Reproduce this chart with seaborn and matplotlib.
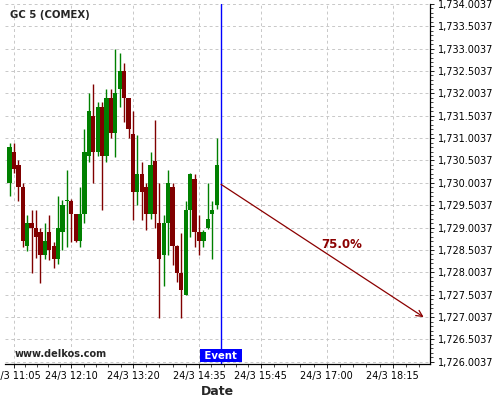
import numpy as np
import pandas as pd
import matplotlib
matplotlib.use("Agg")
import matplotlib.pyplot as plt
import matplotlib.dates as mdates
from matplotlib.ticker import FixedLocator, FuncFormatter
import seaborn as sns

sns.set_theme(style="white")
plt.rcParams['font.family'] = ['DejaVu Sans']

# ---------------- data ----------------
start_time = "2021-03-24 11:00"
n_candles = 48
opens = [1730.00, 1730.69, 1730.40, 1729.91, 1728.60, 1729.11, 1729.00, 1728.91,
         1728.39, 1728.91, 1728.59, 1728.31, 1728.91, 1729.59, 1729.60, 1729.31,
         1728.70, 1729.31, 1730.60, 1731.49, 1730.70, 1731.70, 1730.60, 1731.90,
         1731.12, 1732.10, 1732.50, 1731.90, 1731.09, 1729.80, 1730.20, 1729.92,
         1729.31, 1730.50, 1729.11, 1728.39, 1729.11, 1729.91, 1728.60, 1728.00,
         1727.50, 1729.40, 1730.09, 1728.91, 1728.71, 1729.00, 1729.31, 1729.51]
highs = [1730.89, 1730.89, 1730.51, 1730.00, 1729.29, 1729.40, 1729.40, 1729.00,
         1729.11, 1729.29, 1728.69, 1729.71, 1729.62, 1730.29, 1729.65, 1729.31,
         1729.91, 1731.20, 1732.01, 1732.21, 1731.81, 1731.81, 1732.10, 1732.10,
         1732.99, 1732.90, 1732.68, 1731.90, 1731.60, 1731.08, 1730.47, 1730.00,
         1730.69, 1731.40, 1730.00, 1729.29, 1730.29, 1730.00, 1728.62, 1728.89,
         1729.60, 1730.23, 1730.20, 1729.28, 1728.95, 1729.99, 1729.60, 1731.00]
lows = [1729.71, 1730.22, 1729.60, 1728.58, 1728.49, 1727.99, 1728.32, 1727.77,
        1728.30, 1728.28, 1728.10, 1728.19, 1728.50, 1728.58, 1728.69, 1728.69,
        1728.58, 1729.11, 1730.47, 1730.00, 1730.60, 1729.40, 1730.47, 1731.01,
        1730.59, 1731.70, 1731.36, 1731.01, 1729.17, 1729.51, 1729.17, 1728.95,
        1729.20, 1729.00, 1726.99, 1727.70, 1728.39, 1728.17, 1727.78, 1726.98,
        1727.50, 1728.79, 1728.58, 1728.39, 1728.58, 1728.98, 1728.30, 1729.41]
closes = [1730.81, 1730.31, 1729.92, 1728.71, 1729.11, 1729.00, 1728.80, 1728.39,
          1728.70, 1728.50, 1728.31, 1729.00, 1729.51, 1729.60, 1729.31, 1728.70,
          1729.31, 1730.70, 1731.60, 1730.70, 1731.70, 1730.60, 1731.90, 1731.12,
          1732.01, 1732.50, 1731.90, 1731.21, 1729.80, 1730.20, 1729.80, 1729.31,
          1730.41, 1729.31, 1728.31, 1729.11, 1730.00, 1728.60, 1728.00, 1727.60,
          1729.40, 1730.20, 1728.91, 1728.71, 1728.91, 1729.19, 1729.40, 1730.41]

event_time = "2021-03-24 15:00"
arrow_start_price = 1729.97
arrow_end_time = "2021-03-24 18:50"
arrow_end_price = 1727.0037
prob_label = "75.0%"
prob_label_time = "2021-03-24 17:17"
prob_label_price = 1728.62

tick_times = ["2021-03-24 11:05", "2021-03-24 12:10", "2021-03-24 13:20",
              "2021-03-24 14:35", "2021-03-24 15:45", "2021-03-24 17:00",
              "2021-03-24 18:15"]
y_major = [1726.0037 + 0.5 * i for i in range(17)]
title = "GC 5 (COMEX)"
watermark = "www.delkos.com"

# ---------------- build ----------------
times = pd.date_range(start_time, periods=n_candles, freq="5min")
df = pd.DataFrame({"time": times, "open": opens, "high": highs,
                   "low": lows, "close": closes})
df["x"] = mdates.date2num(df["time"])
df["up"] = df["close"] >= df["open"]
df["color"] = np.where(df["up"], "#008000", "#800000")
df["bottom"] = df[["open", "close"]].min(axis=1)
df["height"] = np.maximum((df["close"] - df["open"]).abs(), 0.03)

fig = plt.figure(figsize=(5, 4), dpi=100)
ax = fig.add_axes([0.01, 0.091, 0.85, 0.9])

ax.vlines(df["x"], df["low"], df["high"], colors=df["color"], lw=1, zorder=3)
ax.bar(df["x"], df["height"], bottom=df["bottom"], width=4.8 / 1440,
       color=df["color"], lw=0, zorder=4)

ev = mdates.date2num(pd.Timestamp(event_time))
ax.axvline(ev, color="#0000ff", lw=1, zorder=5)

ax.annotate("", xy=(mdates.date2num(pd.Timestamp(arrow_end_time)), arrow_end_price),
            xytext=(ev, arrow_start_price),
            arrowprops=dict(arrowstyle="->", color="#8b0000", lw=0.9,
                            mutation_scale=11, shrinkA=0, shrinkB=0), zorder=5)
ax.text(mdates.date2num(pd.Timestamp(prob_label_time)), prob_label_price, prob_label,
        color="#8b0000", fontsize=8.5, fontweight="bold", ha="center", va="center")

ax.annotate(" Event ", xy=(ev, 0), xycoords=("data", "axes fraction"),
            xytext=(0, 2), textcoords="offset points", ha="center", va="bottom",
            color="white", fontsize=7.3, fontweight="bold", zorder=6,
            bbox=dict(boxstyle="square,pad=0.15", fc="#0000ff", ec="none"))

ax.text(0.012, 0.967, title, transform=ax.transAxes, fontsize=7.3,
        fontweight="bold", ha="left", va="center")
ax.text(0.0235, 0.027, watermark, transform=ax.transAxes, fontsize=7,
        fontweight="bold", ha="left", va="center")

# axes
ax.set_xlim(mdates.date2num(pd.Timestamp("2021-03-24 10:54:48")),
            mdates.date2num(pd.Timestamp("2021-03-24 18:57:12")))
ax.set_ylim(1725.965, 1734.0087)

xt = mdates.date2num(pd.to_datetime(tick_times))
ax.xaxis.set_major_locator(FixedLocator(xt))
steps = np.diff(xt)
minor = []
for a, s in zip(xt[:-1], steps):
    minor.extend(list(a + s * np.arange(1, 5) / 5))
minor.extend(list(xt[-1] + steps[-1] * np.arange(1, 3) / 5))
minor.extend(list(xt[0] - steps[0] * np.arange(1, 2) / 5))
ax.xaxis.set_minor_locator(FixedLocator(minor))


def fmt_time(v, pos):
    d = mdates.num2date(v)
    return f"{d.day}/{d.month} {d:%H:%M}"


ax.xaxis.set_major_formatter(FuncFormatter(fmt_time))

ax.yaxis.set_major_locator(FixedLocator(y_major))
ax.yaxis.set_minor_locator(FixedLocator([1726.0037 + 0.1 * i for i in range(81)]))
ax.yaxis.set_major_formatter(FuncFormatter(lambda v, p: f"{v:,.4f}"))
ax.yaxis.tick_right()

ax.tick_params(axis="both", which="major", length=3, width=0.6, labelsize=7,
               colors="black", direction="out", bottom=True, right=True,
               left=False, top=False, labelright=True, labelleft=False, pad=2.5)
ax.tick_params(axis="both", which="minor", length=1.8, width=0.5,
               colors="black", direction="out", bottom=True, right=True,
               left=False, top=False)

for side in ["left", "top"]:
    ax.spines[side].set_visible(False)
for side in ["right", "bottom"]:
    ax.spines[side].set_color("black")
    ax.spines[side].set_linewidth(0.9)

ax.grid(True, which="major", color="#c8c8c8", ls=(0, (3, 3)), lw=0.7, zorder=0)
ax.set_axisbelow(True)
ax.set_xlabel("Date", fontsize=9, fontweight="bold", labelpad=3)
ax.set_facecolor("white")

fig.savefig("out.png", dpi=100)
